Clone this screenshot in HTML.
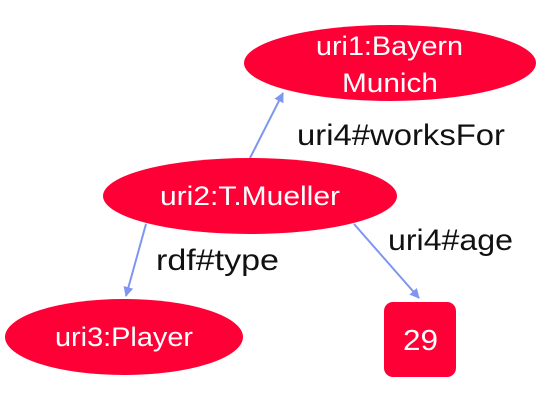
<!DOCTYPE html>
<html><head><style>body{margin:0;background:#fff}</style></head><body>
<svg width="538" height="400" viewBox="0 0 538 400" xmlns="http://www.w3.org/2000/svg" font-family="Liberation Sans, sans-serif">
<defs><marker id="a" markerWidth="10" markerHeight="10" refX="9" refY="5" orient="auto" markerUnits="userSpaceOnUse"><path d="M0,0 L10,5 L0,10 z" fill="#7f96f0"/></marker></defs>
<g stroke="#7f96f0" stroke-width="2" marker-end="url(#a)">
<line x1="250" y1="158" x2="283" y2="93"/>
<line x1="146" y1="224" x2="126" y2="296"/>
<line x1="354" y1="224" x2="419" y2="298"/>
</g>
<g fill="#ff0036">
<ellipse cx="390" cy="63" rx="146" ry="38"/>
<ellipse cx="250" cy="196" rx="147" ry="38"/>
<ellipse cx="124" cy="337" rx="119" ry="38"/>
<rect x="384" y="302" width="72" height="75" rx="9"/>
</g>
<g fill="#fff" font-size="27" lengthAdjust="spacingAndGlyphs">
<text x="316" y="55" textLength="147" lengthAdjust="spacingAndGlyphs">uri1:Bayern</text>
<text x="342" y="92" textLength="96" lengthAdjust="spacingAndGlyphs">Munich</text>
<text x="160" y="205" textLength="180" lengthAdjust="spacingAndGlyphs">uri2:T.Mueller</text>
<text x="55" y="346" textLength="138" lengthAdjust="spacingAndGlyphs">uri3:Player</text>
<text x="403" y="350" textLength="35" lengthAdjust="spacingAndGlyphs" font-size="29">29</text>
</g>
<g fill="#111" font-size="30">
<text x="297" y="145" textLength="208" lengthAdjust="spacingAndGlyphs">uri4#worksFor</text>
<text x="156" y="270" textLength="123" lengthAdjust="spacingAndGlyphs">rdf#type</text>
<text x="388" y="250" textLength="125" lengthAdjust="spacingAndGlyphs">uri4#age</text>
</g>
</svg>
</body></html>
